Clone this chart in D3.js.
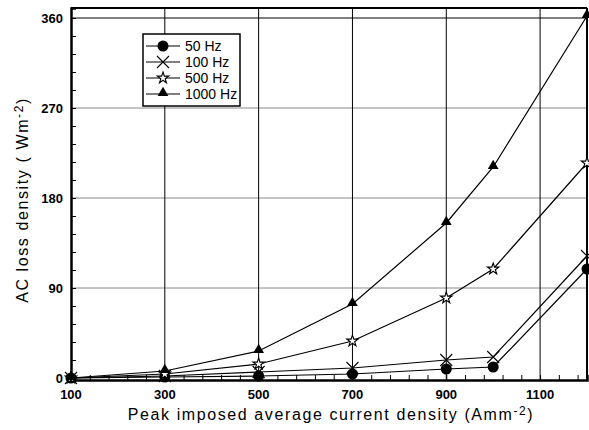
<!DOCTYPE html>
<html>
<head>
<meta charset="utf-8">
<script src="https://cdn.jsdelivr.net/npm/d3@7"></script>
<style>
body { margin: 0; background: #fff; }
svg text { font-family: Arial, "Liberation Sans", sans-serif; }
</style>
</head>
<body>
<svg id="chart" width="589" height="430"></svg>
<script>
// values
var currentDensity = [100, 300, 500, 700, 900, 1000, 1200];
var loss50 = [0, 1, 2, 4, 9, 11, 109];
var loss100 = [0, 2, 6, 10, 18, 21, 122];
var loss500 = [0, 4, 14, 37, 80, 109, 215];
var loss1000 = [0, 7, 27, 74, 155, 211, 362];
var seriesNames = ["50 Hz", "100 Hz", "500 Hz", "1000 Hz"];
var markers = ["circle", "cross", "star", "triangle"];
var xTicks = [100, 300, 500, 700, 900, 1100];
var yTicks = [0, 90, 180, 270, 360];

var svg = d3.select("#chart");
var x = d3.scaleLinear().domain([100, 1200]).range([71, 587]);
var y = d3.scaleLinear().domain([-2, 370]).range([380, 8]);

var allSeries = [loss50, loss100, loss500, loss1000];

// grid
svg.append("g").selectAll("line").data(yTicks.slice(1, 4)).enter().append("line")
	.attr("x1", x(100)).attr("x2", x(1200))
	.attr("y1", function(d) { return y(d); }).attr("y2", function(d) { return y(d); })
	.attr("stroke", "#888").attr("stroke-width", 1);
svg.append("line")
	.attr("x1", x(100)).attr("x2", x(1200)).attr("y1", y(360)).attr("y2", y(360))
	.attr("stroke", "#000").attr("stroke-width", 1);
svg.append("g").selectAll("line").data(xTicks.slice(1)).enter().append("line")
	.attr("y1", y(-2)).attr("y2", y(370))
	.attr("x1", function(d) { return x(d); }).attr("x2", function(d) { return x(d); })
	.attr("stroke", "#000").attr("stroke-width", 1);

// axes with inward minor ticks
var xAxis = d3.axisBottom(x).tickValues(d3.range(100, 1201, 40)).tickSize(-5).tickFormat("");
svg.append("g").attr("transform", "translate(0," + y(-2) + ")").call(xAxis)
	.call(function(g) { g.select(".domain").attr("stroke-width", 2.5); });
var yAxis = d3.axisLeft(y).tickValues(d3.range(0, 361, 18)).tickSize(-5).tickFormat("");
svg.append("g").attr("transform", "translate(" + x(100) + ",0)").call(yAxis)
	.call(function(g) { g.select(".domain").attr("stroke-width", 2.5); });

// frame top/right
svg.append("line").attr("x1", x(100)).attr("x2", x(1200)).attr("y1", y(370)).attr("y2", y(370))
	.attr("stroke", "#000").attr("stroke-width", 2);
svg.append("line").attr("x1", x(1200)).attr("x2", x(1200)).attr("y1", y(370)).attr("y2", y(-2))
	.attr("stroke", "#000").attr("stroke-width", 2);

// tick labels
svg.append("g").selectAll("text").data(xTicks).enter().append("text")
	.attr("x", function(d) { return x(d); }).attr("y", 399)
	.attr("text-anchor", "middle").attr("font-size", 13).attr("font-weight", "bold")
	.text(function(d) { return d; });
svg.append("g").selectAll("text").data(yTicks).enter().append("text")
	.attr("x", 63).attr("y", function(d) { return y(d) + 5; })
	.attr("text-anchor", "end").attr("font-size", 13).attr("font-weight", "bold")
	.text(function(d) { return d; });

// axis titles
var xt = svg.append("text").attr("x", 331).attr("y", 420).attr("text-anchor", "middle")
	.attr("font-size", 16).attr("letter-spacing", 1.6);
xt.append("tspan").text("Peak imposed average current density (Amm");
xt.append("tspan").attr("dy", -5).attr("font-size", 12).text("-2");
xt.append("tspan").attr("dy", 5).text(")");
var yt = svg.append("text").attr("transform", "translate(28,200) rotate(-90)").attr("text-anchor", "middle")
	.attr("font-size", 16).attr("letter-spacing", 1.6);
yt.append("tspan").text("AC loss density ( Wm");
yt.append("tspan").attr("dy", -5).attr("font-size", 12).text("-2");
yt.append("tspan").attr("dy", 5).text(")");

// marker drawing
function drawMarker(g, type, cx, cy) {
	if (type === "circle") {
		g.append("circle").attr("cx", cx).attr("cy", cy).attr("r", 5.5).attr("fill", "#000");
	} else if (type === "cross") {
		g.append("path").attr("d", "M" + (cx - 6) + "," + (cy - 6) + "L" + (cx + 6) + "," + (cy + 6) +
			"M" + (cx - 6) + "," + (cy + 6) + "L" + (cx + 6) + "," + (cy - 6))
			.attr("stroke", "#000").attr("stroke-width", 1.1);
	} else if (type === "star") {
		g.append("path").attr("d", d3.symbol().type(d3.symbolStar).size(40)())
			.attr("transform", "translate(" + cx + "," + cy + ")")
			.attr("fill", "#fff").attr("stroke", "#000").attr("stroke-width", 1.1);
	} else {
		g.append("path").attr("d", d3.symbol().type(d3.symbolTriangle).size(50)())
			.attr("transform", "translate(" + cx + "," + (cy - 1) + ")")
			.attr("fill", "#000");
	}
}

var line = d3.line().x(function(d, i) { return x(currentDensity[i]); }).y(function(d) { return y(d); });

allSeries.forEach(function(vals, s) {
	svg.append("path").datum(vals).attr("d", line)
		.attr("fill", "none").attr("stroke", "#000").attr("stroke-width", 1.2);
});
allSeries.forEach(function(vals, s) {
	var g = svg.append("g");
	vals.forEach(function(v, i) {
		drawMarker(g, markers[s], x(currentDensity[i]), y(v));
	});
});

// legend
var leg = svg.append("g");
leg.append("rect").attr("x", 143).attr("y", 34).attr("width", 97).attr("height", 72)
	.attr("fill", "#fff").attr("stroke", "#000").attr("stroke-width", 1.5);
var legY = [46, 62, 78, 94];
seriesNames.forEach(function(name, s) {
	leg.append("line").attr("x1", 146).attr("x2", 180).attr("y1", legY[s]).attr("y2", legY[s])
		.attr("stroke", "#000").attr("stroke-width", 1.2);
	drawMarker(leg, markers[s], 163, legY[s]);
	leg.append("text").attr("x", 185).attr("y", legY[s] + 5).attr("font-size", 14).text(name);
});
</script>
</body>
</html>
